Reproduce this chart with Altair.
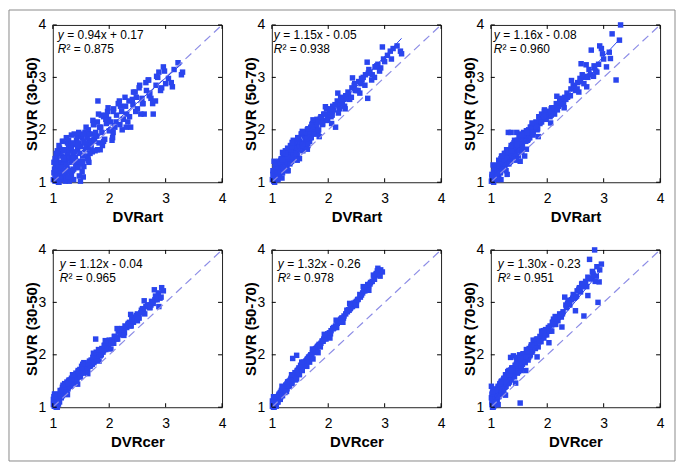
import altair as alt
import pandas as pd

FONT = "Liberation Sans"
BLUE = "#2a45ee"
DASH = "#8c8ce6"
W, H = 170, 158

TICKS = [1, 2, 3, 4]
X_TITLES = ["DVRart", "DVRcer"]
Y_TITLES = ["SUVR (30-50)", "SUVR (50-70)", "SUVR (70-90)"]
SLOPES = [0.94, 1.15, 1.16, 1.12, 1.32, 1.30]
INTERCEPTS = [0.17, -0.05, -0.08, -0.04, -0.26, -0.23]
EQ_TEXT = ["= 0.94x + 0.17", "= 1.15x - 0.05", "= 1.16x - 0.08",
           "= 1.12x - 0.04", "= 1.32x - 0.26", "= 1.30x - 0.23"]
R2_TEXT = ["\u00b2 = 0.875", "\u00b2 = 0.938", "\u00b2 = 0.960",
           "\u00b2 = 0.965", "\u00b2 = 0.978", "\u00b2 = 0.951"]

# DVRart (top row x values)
X_ART = [
    1.01, 1.02, 1.04, 1.05, 1.06, 1.07, 1.08, 1.09, 1.10, 1.11,
    1.12, 1.13, 1.14, 1.15, 1.16, 1.17, 1.18, 1.19, 1.20, 1.21,
    1.22, 1.23, 1.24, 1.25, 1.26, 1.27, 1.28, 1.29, 1.30, 1.31,
    1.32, 1.33, 1.35, 1.36, 1.37, 1.38, 1.40, 1.41, 1.42, 1.44,
    1.45, 1.46, 1.48, 1.49, 1.50, 1.52, 1.53, 1.55, 1.57, 1.58,
    1.60, 1.62, 1.63, 1.65, 1.67, 1.69, 1.70, 1.72, 1.74, 1.76,
    1.78, 1.80, 1.82, 1.85, 1.87, 1.90, 1.92, 1.95, 1.97, 2.00,
    2.02, 2.05, 2.08, 2.10, 2.13, 2.16, 2.19, 2.22, 2.25, 2.28,
    2.31, 2.35, 2.38, 2.42, 2.46, 2.50, 2.54, 2.58, 2.62, 2.66,
    2.70, 2.74, 2.78, 2.83, 2.88, 2.93, 2.98, 3.05, 3.15, 3.28,
    1.03, 1.06, 1.09, 1.13, 1.16, 1.19, 1.23, 1.27, 1.31, 1.34,
    1.08, 1.14, 1.21, 1.26, 1.33, 1.39, 1.43, 1.47, 1.54, 1.61,
    1.66, 1.73, 1.79, 1.88, 1.99, 2.07, 2.20, 2.33, 2.48, 2.60,
    2.72, 2.86, 3.10, 3.22, 3.30, 1.05, 1.18, 1.29, 1.52, 1.75,
    1.02, 1.04, 1.07, 1.10, 1.12, 1.15, 1.17, 1.20, 1.22, 1.25,
    1.28, 1.30, 1.33, 1.36, 1.38, 1.41, 1.44, 1.47, 1.50, 1.53,
    1.56, 1.59, 1.62, 1.64, 1.68, 1.71, 1.75, 1.79, 1.83, 1.86,
    1.90, 1.94, 1.98, 2.03, 2.07, 2.12, 2.18, 2.23, 2.29, 2.36,
    2.41, 2.47, 2.53, 2.59, 2.65, 2.71, 2.77, 2.84, 2.91, 3.00,
    1.06, 1.11, 1.19, 1.24, 1.32, 1.37, 1.46, 1.55, 1.64, 1.81,
    1.04, 1.11, 1.19, 1.27, 1.36, 1.45, 1.54, 1.63, 1.73, 1.84,
    1.95, 2.06, 2.17, 2.30, 2.43, 2.56, 2.69, 2.82, 2.96, 3.12,
]
Y_ART_3050 = [
    1.05, 1.18, 1.02, 1.30, 1.10, 1.42, 1.15, 1.25, 1.08, 1.35,
    1.20, 1.55, 1.12, 1.38, 1.28, 1.05, 1.62, 1.33, 1.22, 1.48,
    1.15, 1.40, 1.85, 1.30, 1.52, 1.25, 1.70, 1.10, 1.45, 1.60,
    1.38, 1.90, 1.22, 1.55, 1.05, 1.72, 1.48, 1.35, 1.80, 1.62,
    1.40, 1.75, 1.55, 1.02, 1.68, 1.85, 1.50, 1.30, 1.95, 1.62,
    1.72, 1.50, 2.00, 1.80, 1.65, 1.92, 1.58, 2.10, 1.78, 1.95,
    1.88, 2.55, 1.75, 2.05, 1.95, 2.25, 1.82, 2.12, 2.35, 1.98,
    2.15, 1.80, 2.40, 2.05, 2.28, 2.50, 2.10, 2.35, 2.20, 2.62,
    2.30, 2.55, 2.05, 2.48, 2.72, 2.40, 2.85, 2.60, 2.30, 2.75,
    2.95, 2.60, 2.30, 2.85, 3.10, 2.80, 3.12, 2.98, 3.15, 3.05,
    1.25, 1.45, 1.32, 1.08, 1.50, 1.18, 1.35, 1.58, 1.20, 1.48,
    1.60, 1.28, 1.42, 1.75, 1.15, 1.58, 1.88, 1.35, 1.10, 1.85,
    1.55, 1.82, 2.15, 1.70, 2.20, 1.95, 2.45, 2.15, 2.62, 2.50,
    2.70, 3.00, 2.90, 3.28, 3.10, 1.40, 1.78, 1.02, 1.20, 1.60,
    1.38, 1.12, 1.52, 1.00, 1.65, 1.28, 1.78, 1.45, 1.02, 1.62,
    1.80, 1.20, 1.65, 1.45, 1.92, 1.28, 1.70, 1.12, 1.88, 1.40,
    1.75, 2.05, 1.45, 1.92, 1.70, 2.18, 1.88, 1.62, 2.05, 2.28,
    1.78, 2.20, 2.42, 2.00, 2.35, 2.15, 2.55, 2.00, 2.45, 2.25,
    2.58, 2.35, 2.80, 2.50, 2.90, 2.65, 2.50, 3.02, 2.75, 2.88,
    1.55, 1.70, 1.45, 1.08, 1.72, 1.25, 1.95, 1.78, 1.38, 2.30,
    1.45, 1.00, 1.60, 1.10, 1.75, 1.28, 1.92, 1.42, 2.10, 1.62,
    2.28, 1.85, 2.50, 2.05, 2.72, 2.30, 2.95, 2.55, 3.20, 2.82,
]
Y_ART_5070 = [
    1.05, 1.15, 1.02, 1.22, 1.10, 1.30, 1.08, 1.18, 1.25, 1.12,
    1.28, 1.40, 1.15, 1.35, 1.22, 1.45, 1.30, 1.18, 1.52, 1.38,
    1.25, 1.48, 1.60, 1.35, 1.55, 1.30, 1.65, 1.42, 1.50, 1.38,
    1.55, 1.70, 1.40, 1.62, 1.48, 1.80, 1.58, 1.45, 1.72, 1.65,
    1.52, 1.85, 1.70, 1.45, 1.78, 1.92, 1.65, 1.60, 1.88, 1.75,
    1.82, 1.70, 2.00, 1.88, 1.78, 2.05, 1.85, 2.12, 1.95, 2.00,
    2.05, 2.20, 1.95, 2.15, 2.25, 2.10, 2.30, 2.18, 2.40, 2.28,
    2.35, 2.25, 2.45, 2.38, 2.05, 2.55, 2.48, 2.62, 2.50, 2.58,
    2.65, 2.72, 2.58, 2.80, 2.85, 2.75, 2.92, 2.88, 3.00, 3.05,
    2.60, 3.10, 3.05, 3.20, 3.25, 3.18, 3.35, 3.42, 3.55, 3.50,
    1.18, 1.28, 1.12, 1.32, 1.42, 1.25, 1.48, 1.38, 1.58, 1.45,
    1.20, 1.35, 1.50, 1.42, 1.62, 1.75, 1.55, 1.82, 1.72, 1.90,
    1.95, 2.05, 2.10, 2.22, 2.20, 2.35, 2.40, 2.60, 2.75, 2.95,
    3.15, 3.22, 3.50, 3.60, 3.45, 1.00, 1.08, 1.22, 1.62, 1.92,
    1.22, 1.02, 1.30, 1.18, 1.38, 1.20, 1.45, 1.28, 1.55, 1.40,
    1.48, 1.62, 1.38, 1.68, 1.52, 1.78, 1.55, 1.82, 1.62, 1.92,
    1.70, 1.95, 1.82, 2.02, 1.85, 2.10, 1.92, 2.15, 2.00, 2.22,
    2.12, 2.30, 2.18, 2.40, 2.28, 2.48, 2.32, 2.58, 2.45, 2.68,
    2.62, 2.88, 2.75, 2.98, 2.85, 3.08, 2.95, 3.20, 3.12, 3.30,
    1.35, 1.10, 1.42, 1.55, 1.35, 1.75, 1.85, 1.95, 1.70, 2.15,
    1.40, 1.05, 1.57, 1.22, 1.76, 1.42, 1.97, 1.63, 2.19, 1.87,
    2.44, 2.12, 2.70, 2.40, 2.99, 2.70, 3.29, 3.00, 3.58, 3.35,
]
Y_ART_7090 = [
    1.02, 1.10, 1.05, 1.18, 1.08, 1.25, 1.12, 1.06, 1.22, 1.15,
    1.20, 1.32, 1.10, 1.28, 1.38, 1.18, 1.45, 1.25, 1.35, 1.50,
    1.30, 1.42, 1.55, 1.28, 1.48, 1.38, 1.62, 1.35, 1.50, 1.95,
    1.45, 1.58, 1.40, 1.95, 1.52, 1.70, 1.48, 1.65, 1.80, 1.55,
    1.62, 1.95, 1.70, 1.50, 1.85, 1.75, 1.92, 1.68, 1.82, 1.95,
    1.50, 1.88, 1.98, 1.80, 2.00, 1.85, 2.05, 1.95, 2.10, 2.02,
    2.08, 2.15, 2.00, 2.25, 2.12, 2.30, 2.20, 2.35, 2.22, 2.28,
    2.35, 2.25, 2.42, 2.38, 2.30, 2.50, 2.45, 2.55, 2.60, 2.52,
    2.62, 2.70, 2.65, 2.78, 2.85, 2.75, 2.90, 2.98, 3.05, 3.00,
    2.82, 3.15, 3.52, 3.22, 3.10, 3.60, 3.45, 3.20, 3.83, 3.71,
    1.12, 1.20, 1.15, 1.30, 1.22, 1.40, 1.28, 1.45, 1.38, 1.62,
    1.28, 1.42, 1.35, 1.55, 1.60, 1.72, 1.58, 1.78, 1.65, 1.90,
    1.82, 2.00, 2.08, 2.15, 2.30, 2.40, 2.45, 2.58, 2.82, 3.26,
    3.00, 3.12, 3.48, 2.95, 4.00, 1.00, 1.05, 1.15, 1.40, 1.95,
    1.15, 1.05, 1.25, 1.12, 1.32, 1.20, 1.40, 1.25, 1.48, 1.35,
    1.45, 1.58, 1.38, 1.65, 1.50, 1.75, 1.55, 1.80, 1.60, 1.88,
    1.72, 1.92, 1.78, 1.98, 1.85, 2.05, 1.90, 2.12, 2.02, 2.18,
    2.15, 2.25, 2.20, 2.35, 2.28, 2.42, 2.38, 2.52, 2.48, 2.62,
    2.65, 2.80, 2.78, 2.92, 2.88, 3.02, 3.05, 3.18, 3.25, 3.35,
    1.28, 1.18, 1.45, 1.42, 1.35, 1.60, 1.72, 1.58, 1.95, 2.05,
    1.33, 1.05, 1.50, 1.22, 1.70, 1.42, 1.91, 1.63, 2.13, 1.87,
    2.38, 2.13, 2.64, 2.42, 2.94, 2.72, 3.24, 3.02, 3.55, 3.36,
]

# DVRcer (bottom row x values)
X_CER = [
    1.01, 1.02, 1.03, 1.04, 1.05, 1.06, 1.07, 1.08, 1.09, 1.10,
    1.11, 1.12, 1.13, 1.14, 1.15, 1.16, 1.17, 1.18, 1.19, 1.20,
    1.21, 1.22, 1.23, 1.24, 1.25, 1.26, 1.27, 1.28, 1.29, 1.30,
    1.31, 1.32, 1.33, 1.35, 1.36, 1.37, 1.38, 1.40, 1.41, 1.43,
    1.44, 1.45, 1.47, 1.48, 1.50, 1.51, 1.53, 1.55, 1.56, 1.58,
    1.60, 1.62, 1.64, 1.66, 1.68, 1.70, 1.72, 1.74, 1.76, 1.78,
    1.80, 1.82, 1.84, 1.87, 1.89, 1.92, 1.94, 1.97, 1.99, 2.02,
    2.05, 2.08, 2.10, 2.13, 2.16, 2.19, 2.22, 2.25, 2.28, 2.31,
    2.34, 2.37, 2.40, 2.43, 2.46, 2.50, 2.53, 2.57, 2.61, 2.65,
    2.68, 2.72, 2.75, 2.78, 2.81, 2.84, 2.87, 2.90, 2.93, 2.96,
    1.02, 1.05, 1.08, 1.12, 1.15, 1.19, 1.22, 1.26, 1.30, 1.34,
    1.06, 1.10, 1.14, 1.18, 1.24, 1.28, 1.32, 1.39, 1.46, 1.52,
    1.57, 1.63, 1.69, 1.75, 1.83, 1.90, 1.98, 2.11, 2.24, 2.36,
    2.48, 2.59, 2.70, 2.82, 2.88, 1.04, 1.13, 1.21, 1.42, 1.65,
    1.01, 1.03, 1.05, 1.07, 1.09, 1.11, 1.13, 1.15, 1.17, 1.19,
    1.21, 1.23, 1.25, 1.27, 1.29, 1.31, 1.34, 1.36, 1.39, 1.42,
    1.45, 1.49, 1.52, 1.54, 1.59, 1.61, 1.65, 1.67, 1.71, 1.73,
    1.77, 1.79, 1.81, 1.86, 1.91, 1.96, 2.00, 2.04, 2.09, 2.15,
    2.20, 2.27, 2.33, 2.39, 2.45, 2.52, 2.56, 2.63, 2.74, 2.85,
    1.02, 1.04, 1.08, 1.12, 1.16, 1.20, 1.24, 1.28, 1.33, 1.37,
    1.03, 1.10, 1.18, 1.26, 1.35, 1.44, 1.53, 1.62, 1.72, 1.82,
    1.93, 2.03, 2.14, 2.26, 2.38, 2.50, 2.62, 2.72, 2.80, 2.92,
]
Y_CER_3050 = [
    1.05, 1.10, 1.02, 1.15, 1.08, 1.20, 1.12, 1.05, 1.18, 1.22,
    1.15, 1.25, 1.20, 1.28, 1.18, 1.32, 1.22, 1.35, 1.26, 1.30,
    1.38, 1.28, 1.35, 1.42, 1.30, 1.45, 1.38, 1.50, 1.40, 1.48,
    1.42, 1.52, 1.45, 1.55, 1.48, 1.60, 1.52, 1.58, 1.65, 1.56,
    1.62, 1.68, 1.58, 1.72, 1.65, 1.78, 1.70, 1.85, 1.68, 1.75,
    1.80, 1.72, 1.85, 1.78, 1.90, 1.82, 1.95, 1.88, 2.30, 1.92,
    2.00, 2.05, 1.98, 2.12, 2.05, 2.18, 2.10, 2.22, 2.15, 2.25,
    2.28, 2.22, 2.35, 2.30, 2.45, 2.38, 2.50, 2.42, 2.55, 2.52,
    2.60, 2.55, 2.68, 2.62, 2.72, 2.78, 2.70, 2.85, 2.82, 2.92,
    2.95, 2.90, 3.02, 2.98, 3.05, 3.10, 3.18, 3.08, 3.28, 3.22,
    1.12, 1.08, 1.18, 1.22, 1.25, 1.28, 1.32, 1.40, 1.45, 1.50,
    1.00, 1.15, 1.22, 1.35, 1.32, 1.42, 1.40, 1.58, 1.62, 1.72,
    1.72, 1.78, 1.85, 1.95, 2.00, 2.08, 2.18, 2.32, 2.48, 2.62,
    2.75, 2.88, 2.95, 3.12, 2.92, 1.10, 1.22, 1.32, 1.50, 1.82,
    1.15, 1.02, 1.18, 1.05, 1.20, 1.12, 1.32, 1.22, 1.38, 1.25,
    1.45, 1.32, 1.48, 1.35, 1.52, 1.40, 1.55, 1.46, 1.62, 1.52,
    1.70, 1.58, 1.75, 1.65, 1.82, 1.72, 1.88, 1.80, 1.95, 1.85,
    2.05, 1.92, 2.10, 2.00, 2.18, 2.12, 2.28, 2.22, 2.35, 2.30,
    2.48, 2.42, 2.58, 2.55, 2.68, 2.72, 2.80, 2.78, 2.95, 3.05,
    1.20, 1.25, 1.00, 1.10, 1.32, 1.38, 1.28, 1.45, 1.55, 1.60,
    1.25, 1.06, 1.42, 1.24, 1.62, 1.44, 1.82, 1.64, 2.03, 1.88,
    2.27, 2.11, 2.50, 2.37, 2.77, 2.65, 3.03, 2.90, 3.24, 3.10,
]
Y_CER_5070 = [
    1.02, 1.08, 1.05, 1.10, 1.12, 1.06, 1.15, 1.10, 1.18, 1.13,
    1.20, 1.16, 1.24, 1.22, 1.28, 1.25, 1.30, 1.27, 1.34, 1.32,
    1.35, 1.32, 1.38, 1.36, 1.42, 1.40, 1.45, 1.43, 1.48, 1.46,
    1.50, 1.48, 1.52, 1.55, 1.58, 1.93, 1.60, 1.62, 1.66, 1.64,
    1.99, 1.70, 1.72, 1.75, 1.74, 1.80, 1.78, 1.82, 1.86, 1.84,
    1.88, 1.90, 1.92, 1.96, 1.98, 2.00, 2.04, 2.05, 2.10, 2.12,
    2.14, 2.16, 2.20, 2.22, 2.26, 2.30, 2.32, 2.36, 2.40, 2.42,
    2.46, 2.50, 2.52, 2.55, 2.60, 2.62, 2.68, 2.70, 2.74, 2.78,
    2.82, 2.85, 2.90, 2.92, 2.98, 3.02, 3.06, 3.10, 3.18, 3.22,
    3.28, 3.32, 3.38, 3.40, 3.48, 3.52, 3.60, 3.55, 3.62, 3.58,
    1.04, 1.12, 1.14, 1.20, 1.26, 1.30, 1.36, 1.40, 1.44, 1.52,
    1.08, 1.16, 1.22, 1.28, 1.36, 1.42, 1.48, 1.56, 1.68, 1.76,
    1.82, 1.92, 2.00, 2.06, 2.18, 2.26, 2.36, 2.52, 2.70, 2.86,
    3.00, 3.14, 3.34, 3.44, 3.65, 1.00, 1.18, 1.30, 1.62, 1.95,
    1.12, 1.00, 1.15, 1.05, 1.20, 1.10, 1.25, 1.15, 1.32, 1.22,
    1.38, 1.28, 1.42, 1.35, 1.48, 1.40, 1.55, 1.45, 1.62, 1.52,
    1.68, 1.62, 1.76, 1.70, 1.85, 1.80, 1.92, 1.86, 2.00, 1.92,
    2.10, 2.05, 2.16, 2.15, 2.26, 2.30, 2.38, 2.40, 2.50, 2.52,
    2.65, 2.70, 2.85, 2.88, 2.98, 3.05, 3.15, 3.22, 3.35, 3.55,
    1.10, 1.15, 1.02, 1.22, 1.20, 1.38, 1.30, 1.48, 1.50, 1.62,
    1.20, 1.10, 1.40, 1.30, 1.62, 1.54, 1.86, 1.78, 2.11, 2.04,
    2.39, 2.32, 2.66, 2.62, 2.98, 2.94, 3.30, 3.23, 3.52, 3.50,
]
Y_CER_7090 = [
    1.40, 1.05, 1.12, 1.25, 1.02, 1.18, 1.30, 1.08, 1.22, 1.35,
    1.15, 1.28, 1.40, 1.20, 1.32, 1.45, 1.25, 1.38, 1.50, 1.30,
    1.42, 1.35, 1.55, 1.48, 1.38, 1.62, 1.45, 1.58, 1.50, 1.68,
    1.55, 1.70, 1.48, 1.95, 1.62, 1.75, 1.58, 1.98, 1.68, 1.80,
    1.72, 1.95, 1.65, 1.85, 1.78, 2.00, 1.70, 1.90, 1.82, 1.98,
    1.88, 1.95, 2.05, 1.90, 2.12, 2.00, 2.18, 2.08, 2.22, 2.15,
    2.20, 2.28, 2.15, 2.35, 2.25, 2.40, 2.32, 2.48, 2.38, 2.52,
    2.55, 2.45, 2.62, 2.58, 2.70, 2.65, 2.78, 2.72, 2.82, 3.10,
    2.90, 3.02, 2.95, 3.05, 3.15, 3.10, 3.22, 3.28, 3.35, 2.74,
    3.40, 3.48, 3.82, 3.45, 3.55, 4.00, 3.50, 3.00, 3.62, 3.73,
    1.10, 1.15, 1.20, 1.30, 1.26, 1.40, 1.52, 1.45, 1.60, 1.65,
    1.12, 1.22, 1.35, 1.42, 1.48, 1.55, 1.52, 1.72, 1.88, 1.08,
    2.02, 2.10, 1.98, 2.28, 2.30, 2.45, 2.42, 2.68, 2.75, 2.98,
    3.08, 3.20, 3.30, 3.52, 3.68, 1.00, 1.05, 1.28, 1.75, 2.00,
    1.18, 1.00, 1.25, 1.08, 1.32, 1.15, 1.38, 1.22, 1.45, 1.28,
    1.48, 1.30, 1.52, 1.40, 1.60, 1.45, 1.65, 1.52, 1.75, 1.58,
    1.82, 1.68, 1.92, 1.75, 1.95, 1.85, 2.08, 1.95, 2.15, 2.05,
    2.22, 2.12, 2.30, 2.25, 2.42, 2.38, 2.48, 2.45, 2.62, 2.58,
    2.72, 2.78, 2.95, 2.98, 3.08, 3.12, 3.25, 3.30, 3.45, 3.40,
    1.25, 1.32, 1.15, 1.20, 1.42, 1.35, 1.55, 1.48, 1.62, 1.70,
    1.29, 1.05, 1.48, 1.23, 1.71, 1.46, 1.94, 1.70, 2.19, 1.96,
    2.46, 2.23, 2.73, 2.53, 3.04, 2.84, 3.36, 3.13, 3.59, 3.39,
]

X_ROWS = [X_ART, X_CER]
Y_SERIES = [Y_ART_3050, Y_ART_5070, Y_ART_7090, Y_CER_3050, Y_CER_5070, Y_CER_7090]
TEXT_DX = [5, 2, 3, 7, 6, 7]
TEXT_BASE = [(14, 28.5), (18.5, 32.5)]


def text_layer(s, dx, dy, italic):
    return alt.Chart(pd.DataFrame({"t": [s]})).mark_text(
        align="left", baseline="alphabetic", font=FONT, fontSize=12,
        fontStyle="italic" if italic else "normal", color="black"
    ).encode(text="t:N", x=alt.value(dx), y=alt.value(dy))


def panel(k):
    row = k // 3
    xs = X_ROWS[row]
    ys = Y_SERIES[k]
    xsc = alt.Scale(domain=[1, 4], nice=False, zero=False)
    ysc = alt.Scale(domain=[1, 4], nice=False, zero=False)
    xax = alt.Axis(values=TICKS, title=X_TITLES[row], format="d")
    yax = alt.Axis(values=TICKS, title=Y_TITLES[k % 3], format="d")
    X = alt.X("x:Q", scale=xsc, axis=xax)
    Y = alt.Y("y:Q", scale=ysc, axis=yax)
    pts = pd.DataFrame({"x": xs, "y": ys})
    points = alt.Chart(pts).mark_square(size=30, color=BLUE, opacity=1).encode(x=X, y=Y)
    ident = alt.Chart(pd.DataFrame({"x": [1, 4], "y": [1, 4]})).mark_line(
        color=DASH, strokeDash=[8, 5], strokeWidth=1.2
    ).encode(x=X, y=Y)
    x0, x1 = min(xs), max(xs)
    a, b = SLOPES[k], INTERCEPTS[k]
    reg = alt.Chart(pd.DataFrame({"x": [x0, x1], "y": [a * x0 + b, a * x1 + b]})).mark_line(
        color=BLUE, strokeWidth=1
    ).encode(x=X, y=Y)
    tx = pd.DataFrame({"x": TICKS})
    ty = pd.DataFrame({"y": TICKS})
    t_bot = alt.Chart(tx).mark_rule(color="black").encode(
        x=X, y=alt.value(H), y2=alt.value(H - 4))
    t_top = alt.Chart(tx).mark_rule(color="black").encode(
        x=X, y=alt.value(0), y2=alt.value(4))
    t_left = alt.Chart(ty).mark_rule(color="black").encode(
        y=Y, x=alt.value(0), x2=alt.value(4))
    t_right = alt.Chart(ty).mark_rule(color="black").encode(
        y=Y, x=alt.value(W - 4), x2=alt.value(W))
    dx = TEXT_DX[k]
    b1, b2 = TEXT_BASE[row]
    texts = [
        text_layer("y", dx, b1, True),
        text_layer(EQ_TEXT[k], dx + 9.5, b1, False),
        text_layer("R", dx, b2, True),
        text_layer(R2_TEXT[k], dx + 8.7, b2, False),
    ]
    layers = [points, ident, reg, t_bot, t_top, t_left, t_right] + texts
    if k == 0:
        frame = alt.Chart(pd.DataFrame({"f": [0]})).mark_rect(
            filled=False, stroke="#8a8a8a", strokeWidth=1
        ).encode(x=alt.value(-44), x2=alt.value(625), y=alt.value(-15), y2=alt.value(438))
        layers.append(frame)
    return alt.layer(*layers).properties(width=W, height=H)


chart = alt.concat(
    *[panel(k) for k in range(6)],
    columns=3,
    spacing={"row": 68, "column": 50},
    bounds="flush",
).properties(
    padding=0
).configure_view(
    stroke="#222", strokeWidth=1
).configure_axis(
    labelFont=FONT, labelFontSize=14, labelColor="black",
    titleFont=FONT, titleFontSize=15, titleFontWeight="bold", titleColor="black",
    grid=False, ticks=False, domain=False, labelFlush=False,
).configure_axisX(
    labelPadding=9, titlePadding=4
).configure_axisY(
    labelPadding=7, titlePadding=-1.5
)

chart.save("out.html", embed_options={"renderer": "svg", "actions": False})
